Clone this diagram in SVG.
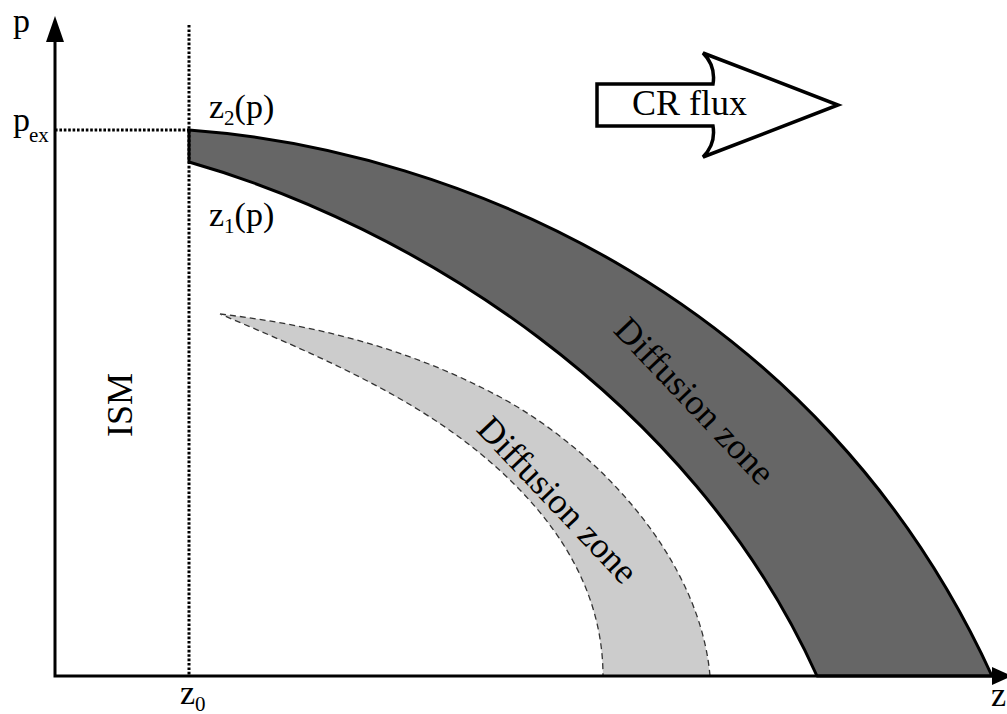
<svg xmlns="http://www.w3.org/2000/svg" width="1007" height="714" viewBox="0 0 1007 714" font-family="'Liberation Serif', 'DejaVu Serif', serif">
<style>
text{font-family:'Liberation Serif','DejaVu Serif',serif;fill:#000}
.dot{stroke:#000;stroke-width:3;stroke-dasharray:2.6 1.8;fill:none}
.axis{stroke:#000;stroke-width:3;fill:none}
.dark{fill:#666;stroke:#000;stroke-width:3;stroke-linejoin:round}
.light{fill:#ccc;stroke:#333;stroke-width:1.3;stroke-dasharray:6 4}
.lbl{font-size:34px}
.sub{font-size:21px}
.big{font-size:36px}
</style>
<rect width="1007" height="714" fill="#fff"/>
<g id="light-zone">
<path class="light" d="M220,314 C313,325 407,347 500,397 C600,451 700,560 710,676 L603,676 C603,580 545,503 467,443 C397,389 305,350 220,314 Z"/>
<text class="big" font-family="Liberation Serif, serif" transform="translate(549,508) rotate(46.5)" text-anchor="middle">Diffusion zone</text>
</g>
<g id="dark-zone">
<path class="dark" d="M189,130 C460,150 820,300 992,676 L817,676 C690,395 410,225 189,162 Z"/>
<text class="big" font-family="Liberation Serif, serif" transform="translate(686,409) rotate(46.5)" text-anchor="middle">Diffusion zone</text>
</g>
<g id="guides">
<line class="dot" x1="189" y1="25" x2="189" y2="676"/>
<line class="dot" x1="55" y1="130" x2="189" y2="130"/>
</g>
<g id="axes">
<path class="axis" d="M55,38 L55,676 L995,676"/>
<polygon points="55,16 46,42 64,42" fill="#000"/>
<polygon points="1012,676 992,667 992,685" fill="#000"/>
<text class="lbl" font-family="Liberation Serif, serif" x="13" y="32">p</text>
<text class="lbl" font-family="Liberation Serif, serif" x="13" y="131">p<tspan class="sub" dx="-1" dy="11">ex</tspan></text>
<text class="lbl" font-family="Liberation Serif, serif" x="180" y="704">z<tspan class="sub" dy="7">0</tspan></text>
<text class="lbl" font-family="Liberation Serif, serif" x="991" y="706">z</text>
</g>
<g id="labels">
<text class="lbl" font-family="Liberation Serif, serif" x="209" y="118">z<tspan class="sub" dy="7">2</tspan><tspan dy="-7">(p)</tspan></text>
<text class="lbl" font-family="Liberation Serif, serif" x="209" y="226">z<tspan class="sub" dy="7">1</tspan><tspan dy="-7">(p)</tspan></text>
<text class="big" font-family="Liberation Serif, serif" transform="translate(132,405) rotate(-90)" text-anchor="middle">ISM</text>
</g>
<g id="cr-flux">
<path d="M597,84 L713,84 Q716,66 703,53 L838,105 L703,157 Q716,144 713,126 L597,126 Z" fill="#fff" stroke="#000" stroke-width="3.5" stroke-linejoin="miter"/>
<text class="big" font-family="Liberation Serif, serif" x="632" y="115">CR flux</text>
</g>
</svg>
